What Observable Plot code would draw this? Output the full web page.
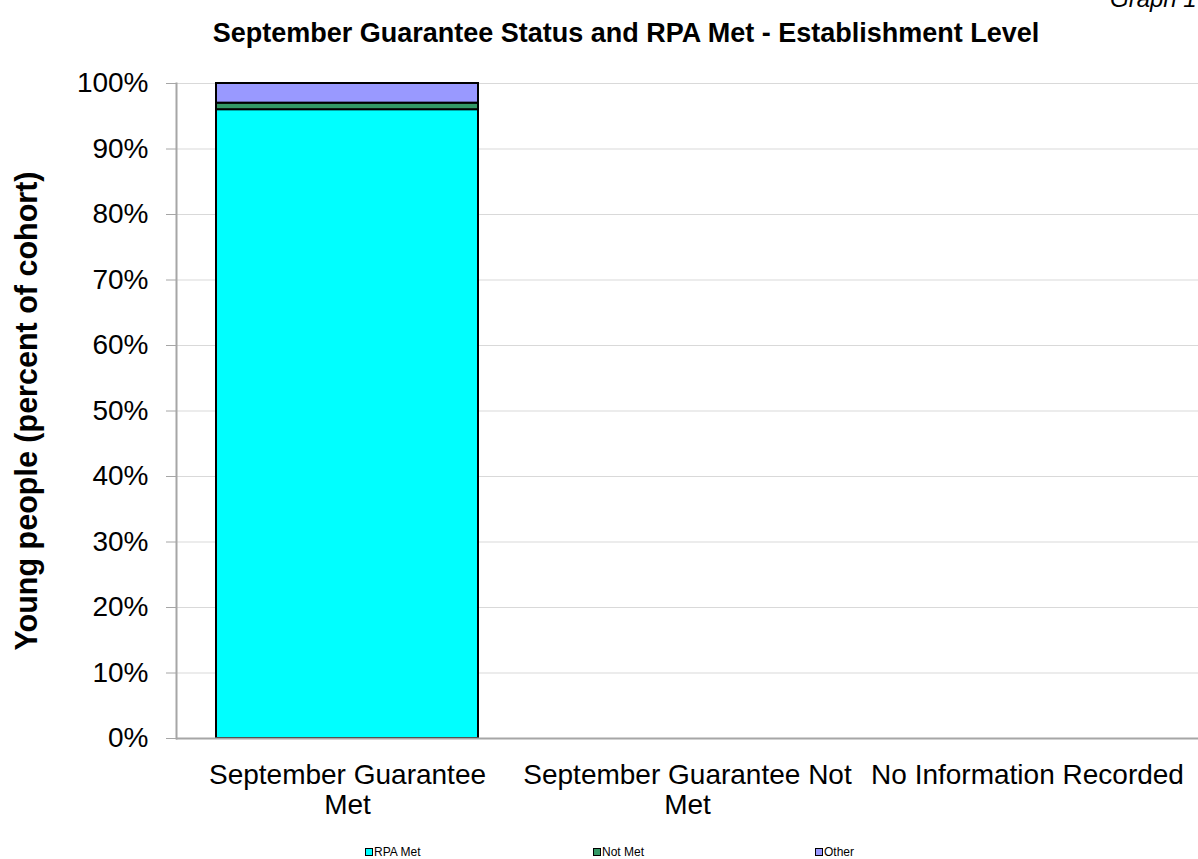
<!DOCTYPE html>
<html>
<head>
<meta charset="utf-8">
<script src="https://cdn.jsdelivr.net/npm/d3@7"></script>
<script src="https://cdn.jsdelivr.net/npm/@observablehq/plot@0.6"></script>
<style>
  body { margin: 0; background: #fff; font-family: "Liberation Sans", Arial, sans-serif; }
  #wrap { position: relative; width: 1198px; height: 859px; overflow: hidden; }
  #graphno { position: absolute; left: 1110px; top: -15px; font-size: 24px; font-style: italic; color: #000; white-space: nowrap; line-height: 1.15; }
  #title { position: absolute; left: 0; width: 1252px; top: 18px; text-align: center; font-size: 27px; font-weight: bold; color: #000; white-space: nowrap; }
  #chart { position: absolute; left: 0; top: 0; }
  #legend { position: absolute; top: 845px; left: 0; width: 1198px; height: 14px; font-size: 12px; color: #000; }
  .li { position: absolute; display: flex; align-items: center; }
  .sw { width: 6px; height: 6px; border: 1px solid #000; margin-right: 1px; }
  #chart svg [aria-label="y-axis label"] text { font-weight: bold; font-size: 30.5px; }
</style>
</head>
<body>
<div id="wrap">
  <div id="graphno">Graph 1</div>
  <div id="title">September Guarantee Status and RPA Met - Establishment Level</div>
  <div id="chart"></div>
  <div id="legend"></div>
</div>
<script>
const categories = ["September Guarantee Met", "September Guarantee Not Met", "No Information Recorded"];
const tickLabels = ["September Guarantee\nMet", "September Guarantee Not\nMet", "No Information Recorded"];
const seriesNames = ["RPA Met", "Not Met", "Other"];
const seriesColors = ["#00FFFF", "#339966", "#9999FF"];
const rpaMet = [96, 0, 0];
const notMet = [1, 0, 0];
const other = [3, 0, 0];
const yTicks = [0, 10, 20, 30, 40, 50, 60, 70, 80, 90, 100];

const seriesValues = [rpaMet, notMet, other];
const rows = [];
categories.forEach((c, i) => {
  seriesNames.forEach((s, j) => {
    if (seriesValues[j][i] > 0) rows.push({category: c, series: s, value: seriesValues[j][i]});
  });
});

const chart = Plot.plot({
  width: 1198,
  height: 859,
  marginLeft: 176,
  marginRight: 0,
  marginTop: 83,
  marginBottom: 121,
  style: {fontFamily: "'Liberation Sans', Arial, sans-serif", fontSize: "28px", color: "#000", background: "transparent"},
  x: {domain: categories, paddingInner: 0.23, paddingOuter: 0.115, align: 0.5},
  y: {domain: [0, 100]},
  color: {domain: seriesNames, range: seriesColors},
  marks: [
    Plot.gridY(yTicks, {stroke: "#d9d9d9", strokeOpacity: 1, strokeWidth: 1}),
    Plot.barY(rows, Plot.stackY({order: seriesNames, x: "category", y: "value", fill: "series", stroke: "#000", strokeWidth: 2})),
    Plot.frame({anchor: "left", stroke: "#a6a6a6", strokeWidth: 2}),
    Plot.ruleY([0], {stroke: "#a6a6a6", strokeWidth: 2}),
    Plot.axisY({ticks: yTicks, tickFormat: d => d + "%", tickSize: 10, tickPadding: 18, stroke: "#a6a6a6", label: "Young people (percent of cohort)", labelArrow: "none", labelAnchor: "center", labelOffset: 161, fontSize: 28}),
    Plot.axisX({tickFormat: d => tickLabels[categories.indexOf(d)], tickSize: 0, tickPadding: 24, label: null, fontSize: 28, lineHeight: 1.07})
  ]
});
document.getElementById("chart").appendChild(chart);

const legend = document.getElementById("legend");
const legendX = [365, 593, 815];
seriesNames.forEach((s, j) => {
  const item = document.createElement("div");
  item.className = "li";
  item.style.left = legendX[j] + "px";
  item.innerHTML = `<span class="sw" style="background:${seriesColors[j]}"></span><span>${s}</span>`;
  legend.appendChild(item);
});
</script>
</body>
</html>
